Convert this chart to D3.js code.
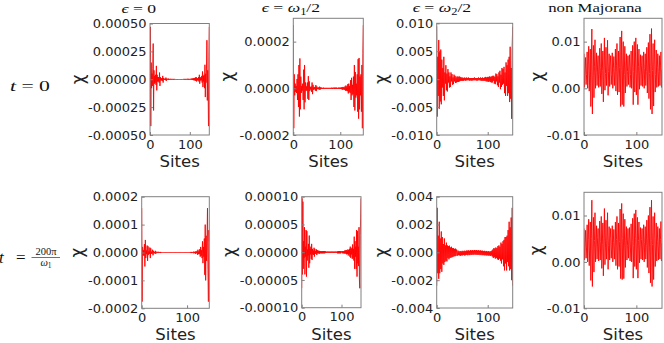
<!DOCTYPE html>
<html><head><meta charset="utf-8">
<script src="https://cdn.jsdelivr.net/npm/d3@7"></script>
<style>html,body{margin:0;padding:0;background:#fff}svg{display:block}</style>
</head><body>
<svg id="chart" width="664" height="343"></svg>
<script>
// ---------------- DATA ----------------
const siteTicks = [0, 100];
const siteLabel = "Sites";
const yLabel = "χ";

// t = 0, eps = 0   (values x 1e-5)
const chiEps0T0 = [20,47,-42,15,-8,5,-6,10,32,-28,
8,-4,3,-3,4,-5,12,-10,4,-2,
2,-2,2,-3,6,-6,2,-1,1,-1,
1,-1.5,3,-3,1,-0.5,0.5,-0.5,0.5,-0.8,
1.5,-1.5,0.5,-0.4,0.4,-0.4,0.6,-0.6,0.3,-0.3,
0.3,-0.3,0.4,-0.4,0.3,-0.3,0.3,-0.3,0.3,-0.3,
0.3,-0.3,0.3,-0.2,0.2,-0.2,0.2,-0.2,0.2,-0.2,
0.2,-0.2,0.2,-0.2,0.2,-0.2,0.2,-0.2,0.2,-0.2,
0.2,-0.2,0.2,-0.2,0.3,-0.3,0.3,-0.3,0.3,-0.3,
0.3,-0.3,0.3,-0.3,0.4,-0.4,0.4,-0.4,0.3,-0.3,
0.3,-0.3,0.4,-0.4,0.5,-0.5,0.6,-0.6,0.8,-0.8,
1,-1,1,-1,1.5,-1.5,2,-2,1,-1,
1,-1,2,-2,4,-4,2,-1,1,-1,
3,-3,7,-7,3,-2,4,-8,13,-16,
5,-3,10,35,-19,8,-10,-42,20,47];
// t = 0, eps = w1/2  (values x 1e-6)
const chiEpsW1T0 = [271,-171,60,-30,20,-15,10,-20,40,-50,
60,-80,100,-121,128,-90,50,-20,10,-10,
20,-50,80,-90,100,-60,25,-10,8,-10,
25,-45,52,-50,30,-12,6,-5,8,-15,
25,-25,15,-6,4,-4,6,-10,14,-12,
8,-4,3,-3,4,-6,7,-6,4,-3,
3,-3,2,-2,3,-3,2,-2,2,-2,
2,-2,2,-2,2,-2,2,-2,2,-2,
2,-2,3,-3,2,-2,3,-3,3,-3,
3,-3,3,-3,2,-2,3,-3,3,-3,
3,-3,4,-4,5,-6,6,-5,4,-6,
8,-10,12,-10,8,-12,18,-22,20,-15,
10,-20,35,-50,45,-30,15,-25,50,-80,
100,-95,70,-40,20,-30,60,-100,125,-130,
130,-90,50,-30,60,-100,100,-171,150,271];
// t = 0, eps = w2/2  (values x 1e-4)
const chiEpsW2T0 = [95,-67,40,-30,70,-53,50,-40,53,-45,
35,-15,20,-30,40,-38,12,-8,25,-20,
10,-22,18,-6,12,-15,5,-14,12,-4,
9,-10,3,-9,8,-4,6,-7,3,-6,
5,-5,4,-5,5,-4,4,-3,3,-3,
3,-3,2,-3,3,-2,2,-3,3,-2,
2,-2,3,-2,2,-3,2,-2,2,-3,
2,-2,2,-2,3,-2,2,-2,2,-3,
2,-2,3,-2,2,-2,3,-3,2,-3,
3,-3,2,-3,3,-3,4,-4,3,-4,
4,-5,4,-4,5,-5,4,-6,5,-6,
6,-3,6,-8,4,-9,10,-4,9,-11,
5,-14,12,-6,15,-18,8,-14,20,-10,
18,-8,22,-25,12,-30,30,-12,25,-30,
35,-25,40,-41,58,-35,20,-71,60,94];
// t = 0, non Majorana  (values x 1e-4)
const chiNonMajT0 = [74,2,40, 66,8,30, 78,0,48, 90,-6,35, 84,-39,50,
127,-55,28, 92,-20,46, 104,0,34, 76,6,52, 70,2,30,
86,4,44, 96,-12,38, 80,-29,50, 108,-4,32, 88,6,46,
103,-15,36, 74,4,50, 70,8,30, 76,0,42, 68,6,36,
84,-6,48, 96,-14,32, 80,-8,44, 110,-39,38, 123,-35,50,
100,-39,30, 90,-10,46, 74,4,36, 70,8,48, 72,2,30,
80,0,44, 92,-35,36, 100,-8,50, 108,-14,32, 94,-35,46,
84,-2,38, 72,6,48, 70,4,30, 78,0,42, 74,6,36,
88,-10,50, 98,-22,32, 116,-45,46, 128,-55,38, 96,-38,50,
104,-8,30, 82,2,44, 74,4,36, 70,6,48, 78,2,40];
// t = 200pi/w1, eps = 0  (values x 1e-6)
const chiEps0T1 = [159,-176,20,-10,8,-12,30,-50,45,-20,
8,-6,25,-30,22,-8,4,-5,18,-20,
15,-5,3,-4,10,-10,6,-3,2,-3,
6,-5,3,-1,1,-2,3,-2,1,-1,
2,-2,2,-1,1,-1,1,-1,1,-1,
1,-1,1,-1,1,-1,1,-1,1,-1,
1,-1,1,-1,1,-1,1,-1,1,-1,
1,-1,1,-1,1,-1,1,-1,1,-1,
1,-1,1,-1,1,-1,1,-1,1,-1,
1,-1,1,-1,1,-1,1,-1,1,-1,
1,-1,1,-1,1,-1,1,-1,2,-2,
2,-2,1,-1,3,-3,2,-2,4,-5,
3,-2,6,-8,10,-6,4,-6,12,-15,
20,-12,8,-20,40,-38,20,-15,50,-80,
100,-100,60,-30,50,159,-60,-176,80,40];
// t = 200pi/w1, eps = w1/2  (values x 1e-6)
const chiEpsW1T1 = [-65,97,-40,91,-30,20,-10,45,-40,10,
-8,40,-44,38,-15,5,-6,15,-28,30,
-20,6,-4,10,-12,15,-14,6,-4,3,
-5,8,-8,6,-3,2,-3,5,-5,4,
-2,2,-2,3,-3,2,-2,2,-2,2,
-2,2,-2,2,-2,2,-2,2,-2,2,
-1,1,-1,1,-1,1,-1,1,-1,1,
-1,1,-1,1,-1,1,-1,1,-1,1,
-1,1,-1,1,-1,1,-1,1,-1,1,
-2,2,-2,2,-2,2,-2,2,-2,2,
1,-1,2,-2,2,-2,2,-2,3,-3,
3,-2,4,-4,3,-3,5,-6,4,-3,
6,-8,10,-10,6,-4,8,-12,14,-10,
6,-15,28,-30,20,-8,10,-30,40,-44,
38,-20,10,-25,45,-50,-65,30,60,97];
// t = 200pi/w1, eps = w2/2  (values x 1e-5)
const chiEpsW2T1 = [-240,320,-150,120,-190,220,-150,100,-120,150,
-140,110,-80,60,-90,100,-70,50,-60,70,
-65,50,-40,45,-50,48,-40,35,-38,40,
-35,30,-32,30,-28,25,-28,27,-25,20,
8,-24,12,-20,6,-22,10,-25,7,-21,
11,-22,8,-19,12,-23,9,-20,13,-18,
12,-21,15,-17,11,-20,16,-16,13,-19,
16,-15,13,-18,17,-14,14,-18,16,-16,
13,-19,15,-16,12,-20,14,-17,11,-21,
12,-19,9,-22,11,-20,7,-23,10,-21,
6,-24,9,-22,5,-26,8,-23,12,-30,
20,-40,30,-35,28,-45,35,-40,30,-50,
45,-55,50,-45,40,-60,70,-80,60,-50,
80,-100,90,-130,110,-80,110,-130,120,-70,
160,-100,220,-130,180,-120,250,-200,320,-240];
// t = 200pi/w1, non Majorana  (values x 1e-4)
const chiNonMajT1 = [72,4,40, 68,8,32, 80,0,48, 92,-8,34, 86,-40,50,
133,-53,28, 96,-22,46, 106,0,34, 78,6,52, 72,2,30,
88,4,44, 98,-14,38, 84,-30,50, 115,-6,32, 90,6,46,
106,-16,36, 76,4,50, 72,8,30, 78,0,42, 70,6,36,
86,-8,48, 98,-16,32, 84,-10,44, 114,-36,38, 126,-38,50,
104,-36,30, 92,-12,46, 76,4,36, 72,8,48, 74,2,30,
82,0,44, 94,-35,36, 104,-10,50, 112,-16,32, 96,-35,46,
86,-2,38, 74,6,48, 72,4,30, 80,0,42, 76,6,36,
90,-12,50, 100,-24,32, 118,-45,46, 133,-53,38, 98,-38,50,
106,-10,30, 84,2,44, 76,4,36, 72,6,48, 87,2,40];

// y tick labels
const yTicksEps0T0  = ["-0.00050","-0.00025","0.00000","0.00025","0.00050"];
const yTicksEpsW1T0 = ["-0.0002","0.0000","0.0002"];
const yTicksEpsW2T0 = ["-0.010","-0.005","0.000","0.005","0.010"];
const yTicksNonMajT0 = ["-0.01","0.00","0.01"];
const yTicksEps0T1  = ["-0.0002","-0.0001","0.0000","0.0001","0.0002"];
const yTicksEpsW1T1 = ["-0.00010","-0.00005","0.00000","0.00005","0.00010"];
const yTicksEpsW2T1 = ["-0.004","-0.002","0.000","0.002","0.004"];
const yTicksNonMajT1 = ["-0.01","0.00","0.01"];

// ---------------- LAYOUT ----------------
const panels = [
  {data: chiEps0T0,  unit: 1e-5, dom: [-0.0005, 0.0005], ticks: yTicksEps0T0,  box: [150, 23.5, 209.3, 135], chiX: 77.5},
  {data: chiEpsW1T0, unit: 1e-6, dom: [-0.0002, 0.0003], ticks: yTicksEpsW1T0, box: [293.3, 18.3, 363.3, 135], chiX: 226.7},
  {data: chiEpsW2T0, unit: 1e-4, dom: [-0.01, 0.01],     ticks: yTicksEpsW2T0, box: [436.7, 23.3, 512.7, 135], chiX: 381},
  {data: chiNonMajT0, unit: 1e-4, dom: [-0.01, 0.015],   ticks: yTicksNonMajT0, box: [584, 18.3, 662, 135], chiX: 536.7},
  {data: chiEps0T1,  unit: 1e-6, dom: [-0.0002, 0.0002], ticks: yTicksEps0T1,  box: [141.7, 196.7, 209.3, 308.3], chiX: 76.7},
  {data: chiEpsW1T1, unit: 1e-6, dom: [-0.0001, 0.0001], ticks: yTicksEpsW1T1, box: [301.7, 196.7, 361, 307.7], chiX: 229},
  {data: chiEpsW2T1, unit: 1e-5, dom: [-0.004, 0.004],   ticks: yTicksEpsW2T1, box: [436.7, 196.7, 512.7, 308], chiX: 381},
  {data: chiNonMajT1, unit: 1e-4, dom: [-0.01, 0.015],   ticks: yTicksNonMajT1, box: [584, 192.3, 662, 308.3], chiX: 536}
];

const svg = d3.select("#chart");
const FRAME = "#808080";
const TXT = "#222";

panels.forEach((p, k) => {
  const [x0, y0, x1, y1] = p.box;
  const x = d3.scaleLinear().domain([0, p.data.length - 1]).range([x0, x1]);
  const y = d3.scaleLinear().domain(p.dom).range([y1, y0]);
  const g = svg.append("g");
  g.append("clipPath").attr("id", "cp" + k).append("rect")
    .attr("x", x0).attr("y", y0).attr("width", x1 - x0).attr("height", y1 - y0);
  const line = d3.line().x((d, i) => x(i)).y(d => y(d * p.unit));
  g.append("path").datum(p.data).attr("d", line)
    .attr("fill", "none").attr("stroke", "#ff0000").attr("stroke-width", 0.9)
    .attr("stroke-linejoin", "miter").attr("clip-path", `url(#cp${k})`);

  const ya = d3.axisLeft(y).tickValues(p.ticks.map(Number))
    .tickFormat((d, i) => p.ticks[i]).tickSizeInner(-3).tickSizeOuter(0).tickPadding(3.5);
  const yg = g.append("g").attr("transform", `translate(${x0},0)`).call(ya);
  const xa = d3.axisBottom(x).tickValues(siteTicks).tickSizeInner(-3).tickSizeOuter(0).tickPadding(4.5);
  const xg = g.append("g").attr("transform", `translate(0,${y1})`).call(xa);
  [yg, xg].forEach(a => {
    a.select(".domain").remove();
    a.selectAll("line").attr("stroke", FRAME);
    a.selectAll("text").attr("fill", TXT).style("font-family", "DejaVu Sans").style("font-size", "13px");
  });

  g.append("rect").attr("x", x0).attr("y", y0).attr("width", x1 - x0).attr("height", y1 - y0)
    .attr("fill", "none").attr("stroke", FRAME).attr("stroke-width", 1);

  g.append("text").attr("x", (x0 + x1) / 2).attr("y", y1 + 31.8).attr("text-anchor", "middle")
    .style("font-family", "DejaVu Sans").style("font-size", "16.5px").attr("fill", TXT).text(siteLabel);
  g.append("text").attr("transform", `translate(${p.chiX},${(y0 + y1) / 2}) rotate(-90)`)
    .attr("text-anchor", "middle").attr("dominant-baseline", "central")
    .style("font-family", "DejaVu Sans").style("font-size", "17px").attr("fill", TXT).text(yLabel);
});

// titles (math-style serif)
const SERIF = "Liberation Serif, DejaVu Serif, serif";
function fit(sel, cx, w) {
  const bb = sel.node().getBBox();
  const s = w / bb.width;
  sel.attr("transform", `translate(${cx - w / 2},0) scale(${s},1) translate(${-bb.x},0)`);
}
function title(parts, cx, w, base) {
  const t = svg.append("text").attr("x", 0).attr("y", base)
    .style("font-family", SERIF).style("font-size", "13.5px").attr("fill", "#111");
  parts.forEach(pt => {
    const ts = t.append("tspan").text(pt.s);
    if (pt.it) ts.style("font-style", "italic");
    if (pt.sub) ts.style("font-size", "9.5px").attr("dy", 2.5);
    if (pt.up) ts.attr("dy", -2.5);
  });
  fit(t, cx, w);
}
title([{s: "ϵ", it: 1}, {s: " = 0"}], 139, 35, 12.7);
title([{s: "ϵ", it: 1}, {s: " = "}, {s: "ω", it: 1}, {s: "1", sub: 1}, {s: "/2", up: 1}], 291, 58.3, 12.5);
title([{s: "ϵ", it: 1}, {s: " = "}, {s: "ω", it: 1}, {s: "2", sub: 1}, {s: "/2", up: 1}], 442, 58.7, 12.5);
title([{s: "non Majorana"}], 595, 93.7, 11.8);

// row labels
const r1 = svg.append("text").attr("x", 0).attr("y", 91.5)
  .style("font-family", SERIF).style("font-size", "15px").attr("fill", "#111");
r1.append("tspan").style("font-style", "italic").text("t");
r1.append("tspan").text(" = 0");
fit(r1, 30, 40);

const r2 = svg.append("g");
r2.append("text").attr("x", -1).attr("y", 263).style("font-family", SERIF).style("font-size", "17px")
  .style("font-style", "italic").attr("fill", "#111").text("t");
r2.append("text").attr("x", 16).attr("y", 263).style("font-family", SERIF).style("font-size", "17px")
  .attr("fill", "#111").text("=");
r2.append("text").attr("x", 46).attr("y", 255).attr("text-anchor", "middle").style("font-family", SERIF)
  .style("font-size", "10.5px").attr("fill", "#111").text("200π");
r2.append("line").attr("x1", 31.5).attr("x2", 60).attr("y1", 257.5).attr("y2", 257.5)
  .attr("stroke", "#111").attr("stroke-width", 0.6);
const den = r2.append("text").attr("x", 46).attr("y", 266).attr("text-anchor", "middle").style("font-family", SERIF)
  .style("font-size", "10.5px").attr("fill", "#111");
den.append("tspan").style("font-style", "italic").text("ω");
den.append("tspan").style("font-size", "7.5px").attr("dy", 1.5).text("1");
</script>
</body></html>
